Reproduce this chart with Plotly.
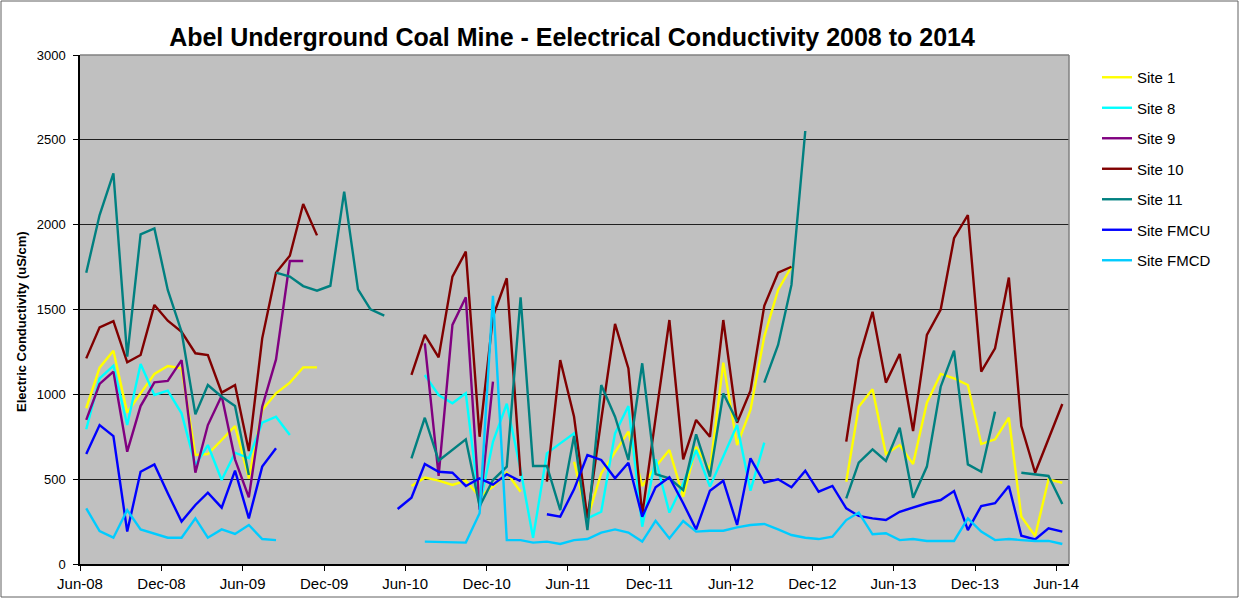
import plotly.graph_objects as go

# Monthly sampling dates, Jun-2008 .. Jun-2014 (73 months)
dates = []
y, m = 2008, 6
for _ in range(73):
    dates.append(f"{y}-{m:02d}-15")
    m += 1
    if m > 12:
        m = 1
        y += 1

N = None
site_1 = [918, 1157, 1257, 892, 1006, 1120, 1167, 1153, 642, 648, 731, 813, 505, 908, 1006, 1069, 1159, 1159,
          N, N, N, N, N, N,
          460, 509, 491, 466, 491, 397, 456, 538, 426,
          N, N, N,
          603, 269, 534, 662, 780, 460, 574, 672, 397, 691, 554, 1187, 701, 908, 1340, 1615, 1752,
          N, N, N,
          485, 927, 1030, 648, 701, 589, 951, 1120, 1094, 1055, 707, 735, 862, 279, 165, 499, 479]

site_8 = [794, 1094, 1169, 819, 1179, 996, 1022, 888, 583, 701, 495, 656, 623, 833, 868, 760,
          N, N, N, N, N, N, N, N, N,
          1114, 996, 947, 1006, 340, 720, 945, 554, 155, 652, 711, 770, 269, 308, 770, 931, 220, 617, 303,
          475, 672, 456, 633, 819, 432, 715,
          N, N, N, N, N, N, N, N, N, N, N, N, N, N, N, N, N, N, N, N, N, N]

site_9 = [849, 1061, 1134, 662, 931, 1071, 1079, 1202, 538, 819, 992, 617, 393, 927, 1206, 1786, 1786,
          N, N, N, N, N, N, N, N,
          1301, 519, 1409, 1572, 320, 1075,
          N, N, N, N, N, N, N, N, N, N, N, N, N, N, N, N, N, N, N, N, N, N, N, N, N, N, N, N, N, N, N,
          N, N, N, N, N, N, N, N, N, N, N]

site_10 = [1212, 1395, 1432, 1189, 1232, 1527, 1434, 1369, 1242, 1232, 1010, 1055, 666, 1330, 1717, 1817, 2122, 1937,
           N, N, N, N, N, N,
           1114, 1350, 1218, 1694, 1841, 750, 1458, 1684, 519,
           N,
           485, 1202, 868, 269, 850, 1415, 1153, 290, 860, 1438, 617, 849, 750, 1438, 833, 1022, 1522, 1717, 1752,
           N, N, N,
           721, 1206, 1487, 1069, 1238, 784, 1350, 1500, 1920, 2057, 1134, 1271, 1688, 813, 538, 741, 943]

site_11 = [1717, 2057, 2303, 1222, 1943, 1978, 1615, 1369, 882, 1055, 986, 931, 525,
           N,
           1717, 1694, 1638, 1611, 1640, 2195, 1619, 1501, 1464,
           N,
           623, 862, 609, 672, 735, 340, 495, 574, 1572, 578, 578, 318, 755, 200, 1055, 868, 613, 1183, 530,
           505, 436, 764, 515, 1006, 839,
           N,
           1069, 1291, 1645, 2552,
           N, N,
           387, 597, 676, 607, 803, 391, 574, 1045, 1257, 587, 544, 898,
           N,
           538, 530, 519, 354]

site_fmcu = [648, 819, 754, 191, 544, 587, 417, 250, 348, 420, 332, 550, 269, 574, 682,
             N, N, N, N, N, N, N, N,
             324, 391, 589, 544, 538, 460, 505, 468, 529, 488,
             N,
             293, 279, 440, 642, 613, 505, 597, 279, 452, 511, 358, 204, 432, 491, 230, 623, 479, 499, 452, 550,
             426, 460, 328, 283, 269, 259, 308, 334, 358, 377, 430, 200, 342, 358, 460, 167, 145, 210, 191]

site_fmcd = [328, 194, 155, 318, 204, 177, 155, 155, 269, 155, 204, 177, 230, 147, 141,
             N, N, N, N, N, N, N, N, N, N,
             132, 130, 130, 126, 299, 1580, 141, 141, 126, 132, 118, 141, 147, 185, 204, 185, 132, 255, 151,
             253, 191, 196, 196, 216, 230, 236, 204, 171, 155, 147, 161, 259, 303, 175, 181, 141, 147, 136,
             136, 136, 269, 191, 141, 147, 141, 136, 136, 118]

series = [
    ("Site 1", site_1, "#FFFF00"),
    ("Site 8", site_8, "#00FFFF"),
    ("Site 9", site_9, "#800080"),
    ("Site 10", site_10, "#800000"),
    ("Site 11", site_11, "#008080"),
    ("Site FMCU", site_fmcu, "#0000FF"),
    ("Site FMCD", site_fmcd, "#00CCFF"),
]

FONT = "Liberation Sans, Arial, sans-serif"

fig = go.Figure()
for i, (name, vals, col) in enumerate(series):
    fig.add_trace(go.Scatter(
        x=dates, y=vals, name=name, mode="lines",
        line=dict(color=col, width=2.4),
        connectgaps=False, legendgroup=f"g{i}",
    ))

W, H = 1239, 598
L, R, T, B = 80, 1069, 55, 564
pw = R - L
ph = B - T


def px_x(p):
    return (p - L) / pw


def px_y(p):
    return (B - p) / ph


fig.update_layout(
    width=W, height=H,
    autosize=False,
    margin=dict(l=L, r=W - R, t=T, b=H - B, autoexpand=False),
    paper_bgcolor="white",
    plot_bgcolor="#C0C0C0",
    font=dict(family=FONT, size=12, color="black"),
    title=dict(
        text="<b>Abel Underground Coal Mine - Eelectrical Conductivity 2008 to 2014</b>",
        x=px_x(572), xref="paper", xanchor="center",
        y=1 - 37 / H, yref="container", yanchor="middle",
        font=dict(family=FONT, size=25, color="black"),
    ),
    showlegend=True,
    legend=dict(
        x=px_x(1097), y=px_y(61), xanchor="left", yanchor="top",
        font=dict(family=FONT, size=15, color="black"),
        bgcolor="rgba(0,0,0,0)", tracegroupgap=8,
        itemwidth=30,
    ),
    xaxis=dict(
        type="date",
        range=["2008-06-01", "2014-06-30"],
        tick0="2008-06-01", dtick="M6", tickformat="%b-%y",
        ticks="outside", ticklen=5, tickcolor="black",
        showgrid=False, showline=True, linecolor="black", linewidth=1.5,
        tickfont=dict(family=FONT, size=15, color="black"),
        zeroline=False, automargin=False,
    ),
    yaxis=dict(
        range=[0, 3000], dtick=500,
        ticks="outside", ticklen=5, tickcolor="black",
        ticklabelstandoff=5,
        showgrid=True, gridcolor="#202020", gridwidth=1.2,
        showline=True, linecolor="black", linewidth=1.5,
        tickfont=dict(family=FONT, size=13, color="black"),
        zeroline=False, automargin=False,
    ),
    annotations=[
        dict(text="<b>Electric Conductivity (uS/cm)</b>", textangle=-90,
             xref="paper", yref="paper", x=px_x(21), y=px_y(322),
             xanchor="center", yanchor="middle", showarrow=False,
             font=dict(family=FONT, size=13, color="black")),
    ],
    shapes=[
        dict(type="line", xref="paper", yref="paper", x0=0, x1=1, y0=1, y1=1,
             line=dict(color="#808080", width=1.5)),
        dict(type="line", xref="paper", yref="paper", x0=1, x1=1, y0=0, y1=1,
             line=dict(color="#808080", width=1.5)),
        dict(type="rect", xref="paper", yref="paper",
             x0=px_x(1), x1=px_x(W - 1), y0=px_y(H - 1), y1=px_y(1),
             line=dict(color="#606060", width=1), fillcolor="rgba(0,0,0,0)"),
    ],
)

fig.write_html("out.html", config={"displayModeBar": False},
               post_script="document.body.style.margin='0';")
